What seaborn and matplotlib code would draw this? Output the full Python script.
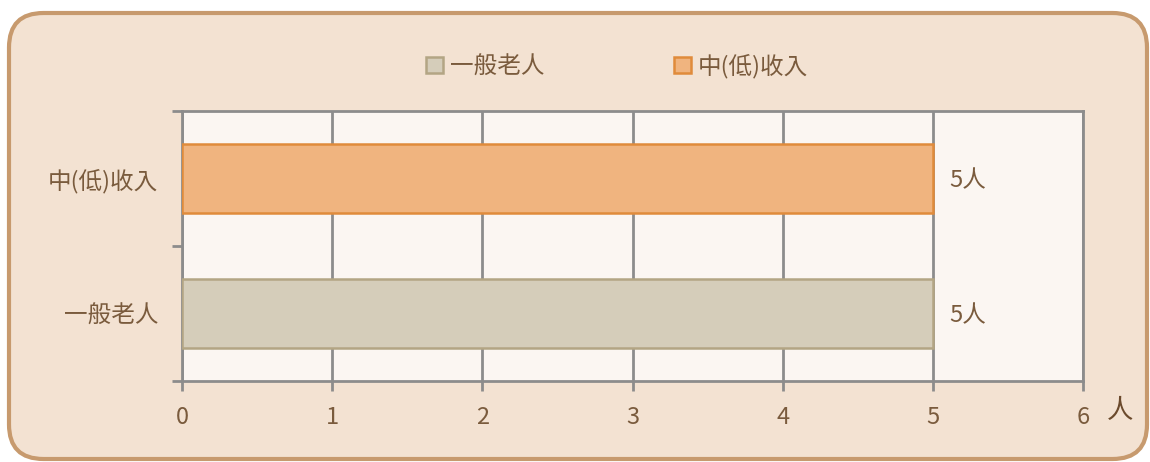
import matplotlib
matplotlib.use("Agg")
import matplotlib.pyplot as plt
from matplotlib.patches import FancyBboxPatch, Patch
import seaborn as sns
import pandas as pd

categories = ["中(低)收入", "一般老人"]
values = [5, 5]
legend_order = ["一般老人", "中(低)收入"]
face_colors = {"一般老人": "#d5cdba", "中(低)收入": "#f0b47f"}
edge_colors = {"一般老人": "#b3a584", "中(低)收入": "#e08b3b"}
x_ticks = [0, 1, 2, 3, 4, 5, 6]
unit = "人"

sns.set_theme(style="white")
plt.rcParams['font.family'] = ['Noto Sans CJK TC', 'DejaVu Sans']

text_color = "#7a5b3d"
grid_color = "#8c8c8c"

fig = plt.figure(figsize=(11.5, 4.62), dpi=100)
fig.patch.set_facecolor("white")
frame = FancyBboxPatch((9/1150, 3/462), 1138/1150, 446/462,
                       boxstyle="round,pad=0,rounding_size=0.03",
                       transform=fig.transFigure, facecolor="#f3e2d2",
                       edgecolor="#c79a6e", linewidth=3, zorder=-10,
                       mutation_aspect=1150/462)
fig.patches.append(frame)

ax = fig.add_axes([182/1150, 81/462, 901/1150, 270/462])
ax.set_facecolor("#fbf6f2")

df = pd.DataFrame({"cat": categories, "val": values})
sns.barplot(data=df, x="val", y="cat", hue="cat", order=categories,
            palette=face_colors, orient="h", width=0.51, dodge=False,
            saturation=1, legend=False, ax=ax, zorder=3)
for patch, cat in zip(ax.patches, categories):
    patch.set_edgecolor(edge_colors[cat])
    patch.set_linewidth(1.8)

for i, (cat, v) in enumerate(zip(categories, values)):
    ax.text(v + 0.11, i + 0.02, f"{v}{unit}", va="center", ha="left",
            fontsize=17, color=text_color)

ax.set_xlim(0, 6)
ax.set_ylim(1.5, -0.5)
ax.set_xticks(x_ticks)
ax.set_xticklabels([str(t) for t in x_ticks])
ax.set_xlabel("")
ax.set_ylabel("")
ax.xaxis.grid(True, color=grid_color, linewidth=2, zorder=1)
ax.set_axisbelow(True)
for s in ax.spines.values():
    s.set_visible(True)
    s.set_color(grid_color)
    s.set_linewidth(2)
ax.tick_params(axis="x", direction="out", length=7, width=2, color=grid_color,
               labelsize=17, labelcolor=text_color, pad=11, bottom=True)
ax.tick_params(axis="y", which="major", length=0, labelsize=17,
               labelcolor=text_color, pad=17)
ax.set_yticks([-0.5, 0.5, 1.5], minor=True)
ax.tick_params(axis="y", which="minor", direction="out", length=7, width=2,
               color=grid_color, left=True)

fig.text(1107/1150, 1 - 411/462, unit, fontsize=19, color="#6b4a2c",
         ha="left", va="center", fontweight="medium")

handles = [Patch(facecolor=face_colors[c], edgecolor=edge_colors[c],
                 linewidth=1.8, label=c) for c in legend_order]
leg = fig.legend(handles=handles, loc="center", bbox_to_anchor=(617/1150, 1 - 66/462),
                 ncol=2, frameon=False, fontsize=17, handlelength=0.7,
                 handleheight=0.7, handletextpad=0.3, columnspacing=5.5)
for t in leg.get_texts():
    t.set_color(text_color)

fig.savefig("out.png", dpi=100)
